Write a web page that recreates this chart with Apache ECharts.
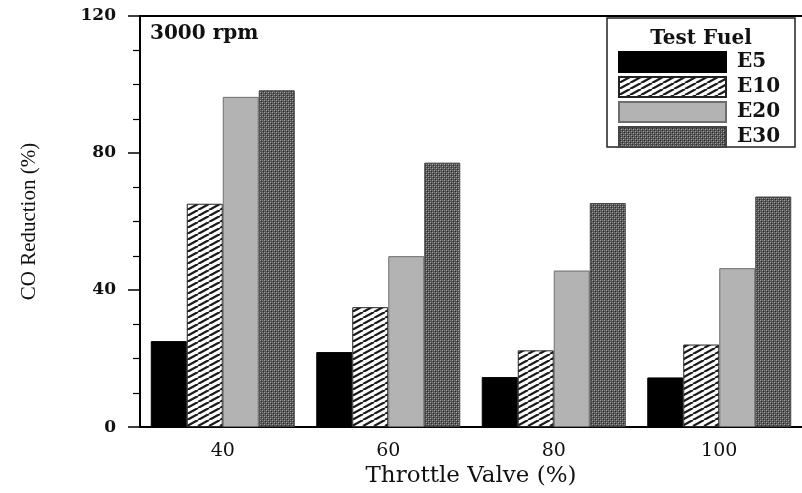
<!DOCTYPE html>
<html>
<head>
<meta charset="utf-8">
<script src="https://cdn.jsdelivr.net/npm/echarts@6/dist/echarts.min.js"></script>
<style>html,body{margin:0;padding:0;background:#fff}#c{width:802px;height:493px}</style>
</head>
<body>
<div id="c"></div>
<script>
// ---- data ----
const categories = ['40', '60', '80', '100'];
const seriesNames = ['E5', 'E10', 'E20', 'E30'];
const e5  = [25.1, 21.9, 14.6, 14.5];
const e10 = [65.2, 35.0, 22.4, 24.1];
const e20 = [96.4, 49.9, 45.7, 46.4];
const e30 = [98.3, 77.2, 65.4, 67.3];
const yTicks = [0, 40, 80, 120];

// ---- patterns ----
function hatch() {
  const w = 11, h = 6;
  const c = document.createElement('canvas');
  c.width = w; c.height = h;
  const g = c.getContext('2d');
  g.fillStyle = '#fff'; g.fillRect(0, 0, w, h);
  g.strokeStyle = '#1a1a1a'; g.lineWidth = 2.3;
  for (let k = -1; k <= 1; k++) {
    g.beginPath(); g.moveTo(k * w, h); g.lineTo(k * w + w, 0); g.stroke();
  }
  return c;
}
function dots() {
  const c = document.createElement('canvas');
  c.width = 4; c.height = 4;
  const g = c.getContext('2d');
  g.fillStyle = '#555'; g.fillRect(0, 0, 4, 4);
  g.fillStyle = '#a6a6a6'; g.fillRect(0, 0, 1, 1); g.fillRect(2, 2, 1, 1);
  g.fillStyle = '#2a2a2a'; g.fillRect(1, 1, 1, 1); g.fillRect(3, 3, 1, 1);
  g.fillStyle = '#7c7c7c'; g.fillRect(2, 0, 1, 1); g.fillRect(0, 2, 1, 1);
  return c;
}

const styles = [
  { color: '#000', borderColor: '#000', borderWidth: 1 },
  { color: { image: hatch(), repeat: 'repeat' }, borderColor: '#222', borderWidth: 1 },
  { color: '#b3b3b3', borderColor: '#6e6e6e', borderWidth: 1 },
  { color: { image: dots(), repeat: 'repeat' }, borderColor: '#444', borderWidth: 1 }
];
const values = [e5, e10, e20, e30];

const chart = echarts.init(document.getElementById('c'), null, { renderer: 'canvas' });
const serif = 'DejaVu Serif';

chart.setOption({
  animation: false,
  backgroundColor: '#fff',
  grid: { left: 140, top: 16, width: 669, height: 414, containLabel: false },
  graphic: [
    { type: 'rect', z: 5, shape: { x: 607, y: 18, width: 188, height: 129 },
      style: { fill: '#fff', stroke: '#222', lineWidth: 1.5 } },
    { type: 'text', z: 6, style: { x: 701, y: 39, text: 'Test Fuel', textAlign: 'center', textVerticalAlign: 'middle',
      font: 'bold 20px "DejaVu Serif"', fill: '#111' } },
    { type: 'text', z: 6, style: { x: 150, y: 34, text: '3000 rpm', textAlign: 'left', textVerticalAlign: 'middle',
      font: 'bold 20px "DejaVu Serif"', fill: '#111' } }
  ],
  legend: {
    orient: 'vertical', left: 618, top: 51, padding: 0, z: 10,
    icon: 'rect',
    itemWidth: 107, itemHeight: 20, itemGap: 3,
    data: seriesNames,
    textStyle: { fontFamily: serif, fontWeight: 'bold', fontSize: 20, lineHeight: 20, color: '#111', padding: [0, 0, 0, 6] }
  },
  xAxis: [{
    type: 'category', data: categories, position: 'bottom',
    axisLine: { lineStyle: { color: '#000', width: 2 } },
    axisTick: { alignWithLabel: true, length: 8, lineStyle: { color: '#000', width: 1.5 } },
    axisLabel: { fontFamily: serif, fontSize: 19, color: '#111', margin: 14 },
    name: 'Throttle Valve (%)', nameLocation: 'middle', nameGap: 37,
    nameTextStyle: { fontFamily: serif, fontSize: 23, color: '#111' }
  }, {
    type: 'category', data: categories, position: 'top',
    axisLine: { lineStyle: { color: '#000', width: 2 } },
    axisTick: { show: false }, axisLabel: { show: false }
  }],
  yAxis: {
    type: 'value', min: yTicks[0], max: yTicks[yTicks.length - 1], interval: 40,
    axisLine: { show: true, lineStyle: { color: '#000', width: 2 } },
    axisTick: { show: true, length: 12, lineStyle: { color: '#000', width: 1.5 } },
    minorTick: { show: true, splitNumber: 4, length: 7, lineStyle: { color: '#000', width: 1.2 } },
    splitLine: { show: false },
    axisLabel: { fontFamily: serif, fontWeight: 'bold', fontSize: 17, color: '#111', margin: 24 },
    name: 'CO Reduction (%)', nameLocation: 'middle', nameGap: 100,
    nameTextStyle: { fontFamily: 'Liberation Serif', fontSize: 21, color: '#111' }
  },
  series: seriesNames.map((n, i) => ({
    name: n, type: 'bar', data: values[i], barWidth: 36, barGap: '0%',
    itemStyle: styles[i]
  }))
});
</script>
</body>
</html>
